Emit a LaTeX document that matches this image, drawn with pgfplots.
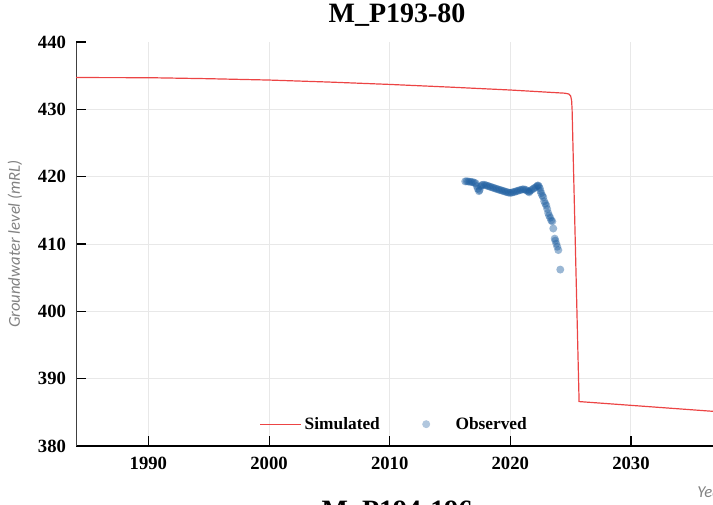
\documentclass[border=0pt]{standalone}
\usepackage{pgfplots}
\pgfplotsset{compat=1.18}
\usepackage{fontspec}
\setmainfont{Liberation Serif}
\newfontfamily\labelfont{Carlito}
\definecolor{simred}{RGB}{236,68,68}
\definecolor{obsblue}{RGB}{31,95,160}
\definecolor{gridgray}{RGB}{232,232,232}
\definecolor{labgray}{RGB}{130,130,130}
\begin{document}
\begin{tikzpicture}[x=0.75pt,y=0.75pt]
\path[use as bounding box, clip] (0,0) rectangle (713,504);
\begin{axis}[
  scale only axis, width=477.75pt, height=303pt,
  at={(57pt,43.5pt)}, anchor=south west,
  xmin=1984, xmax=2036.8, ymin=380, ymax=440,
  axis x line*=bottom, axis y line*=left,
  x axis line style={black, line width=1.5pt},
  y axis line style={black!75, line width=0.6pt},
  xtick={1990,2000,2010,2020,2030},
  ytick={380,390,400,410,420,430},
  extra y ticks={440}, extra y tick style={grid=none},
  tick align=inside, major tick length=7.5pt,
  tick style={black, line width=0.8pt},
  xmajorgrids, ymajorgrids,
  major grid style={gridgray, line width=0.75pt},
  /pgf/number format/1000 sep={},
  /pgf/number format/assume math mode=true,
  ticklabel style={font=\bfseries\fontsize{14}{16}\selectfont},
  yticklabel style={xshift=-4pt},
  xticklabel style={yshift=-5pt},
  title={M\_P193-80},
  title style={at={(axis description cs:0,1)}, anchor=base, xshift=240.75pt, yshift=9pt, font=\bfseries\fontsize{21}{24}\selectfont},
  ylabel={Groundwater level (mRL)},
  ylabel style={at={(axis description cs:0,0.5)}, anchor=center, yshift=45.75pt, font=\labelfont\itshape\fontsize{12.5}{14}\selectfont, color=labgray},
  xlabel={Year},
  xlabel style={at={(axis description cs:0,0)}, anchor=base west, xshift=462.5pt, yshift=-38.25pt, font=\labelfont\itshape\fontsize{12.5}{14}\selectfont, color=labgray},
  legend columns=2,
  legend style={at={(axis description cs:0.5,0.054)}, anchor=center, draw=none, fill=none,
    font=\bfseries\fontsize{13}{15}\selectfont,
    /tikz/every even column/.append style={column sep=24.75pt}},
]
\addplot[simred, line width=0.9pt,
  legend image code/.code={\draw[simred, line width=0.8pt] (0pt,0pt) -- (25pt,0pt); \path (0pt,0pt) -- (31pt,0pt);}]
coordinates {
(1984,434.72) (1990,434.70) (1995,434.55) (2000,434.35) (2005,434.05)
(2010,433.70) (2015,433.30) (2020,432.87) (2024.5,432.40) (2024.85,432.28)
(2025.0,432.0) (2025.08,431.3) (2025.12,430.0) (2025.62,392.6) (2025.70,386.6)
(2036.8,385.15)
};
\addlegendentry{Simulated}
\addplot[only marks, draw=none, mark=*, mark size=3pt,
  mark options={draw=none, draw opacity=0, fill=obsblue, fill opacity=0.45},
  legend image code/.code={\fill[draw=none, fill=obsblue, fill opacity=0.35] (8pt,0pt) circle (3pt); \path (0pt,0pt) -- (28pt,0pt);}]
coordinates {
(2016.26,419.30) (2016.38,419.32) (2016.51,419.28) (2016.63,419.25) (2016.76,419.22)
(2016.88,419.18) (2017.01,419.12) (2017.13,419.00) (2017.22,418.60) (2017.30,418.20)
(2017.40,417.85) (2017.45,418.00) (2017.55,418.55) (2017.63,418.75) (2017.75,418.80)
(2017.88,418.78) (2018.00,418.70) (2018.13,418.63) (2018.25,418.55) (2018.37,418.48)
(2018.50,418.40) (2018.62,418.33) (2018.75,418.25) (2018.87,418.18) (2019.00,418.10)
(2019.12,418.04) (2019.25,417.97) (2019.37,417.90) (2019.49,417.83) (2019.62,417.76)
(2019.74,417.69) (2019.87,417.63) (2019.99,417.60) (2020.12,417.63) (2020.24,417.70)
(2020.37,417.76) (2020.49,417.83) (2020.61,417.90) (2020.74,417.97) (2020.86,418.04)
(2020.99,418.10) (2021.11,418.12) (2021.24,418.06) (2021.36,417.95) (2021.48,417.80)
(2021.56,417.68) (2021.61,417.85) (2021.73,418.00) (2021.86,418.15) (2021.98,418.30)
(2022.11,418.45) (2022.23,418.62) (2022.29,418.70) (2022.36,418.58) (2022.44,418.30)
(2022.50,417.90) (2022.56,417.55) (2022.65,417.20) (2022.73,416.95) (2022.81,416.35)
(2022.90,416.00) (2022.98,415.70) (2023.06,415.20) (2023.14,414.60) (2023.22,414.20)
(2023.31,413.90) (2023.39,413.50) (2023.48,413.36) (2023.56,412.30) (2023.68,410.80)
(2023.73,410.50) (2023.81,410.05) (2023.89,409.60) (2023.98,409.10) (2024.14,406.20)
};
\addlegendentry{Observed}
\end{axis}
\node[anchor=base, font=\bfseries\fontsize{21}{24}\selectfont] at (397,-15.5) {M\_P194-196};
\end{tikzpicture}
\end{document}
